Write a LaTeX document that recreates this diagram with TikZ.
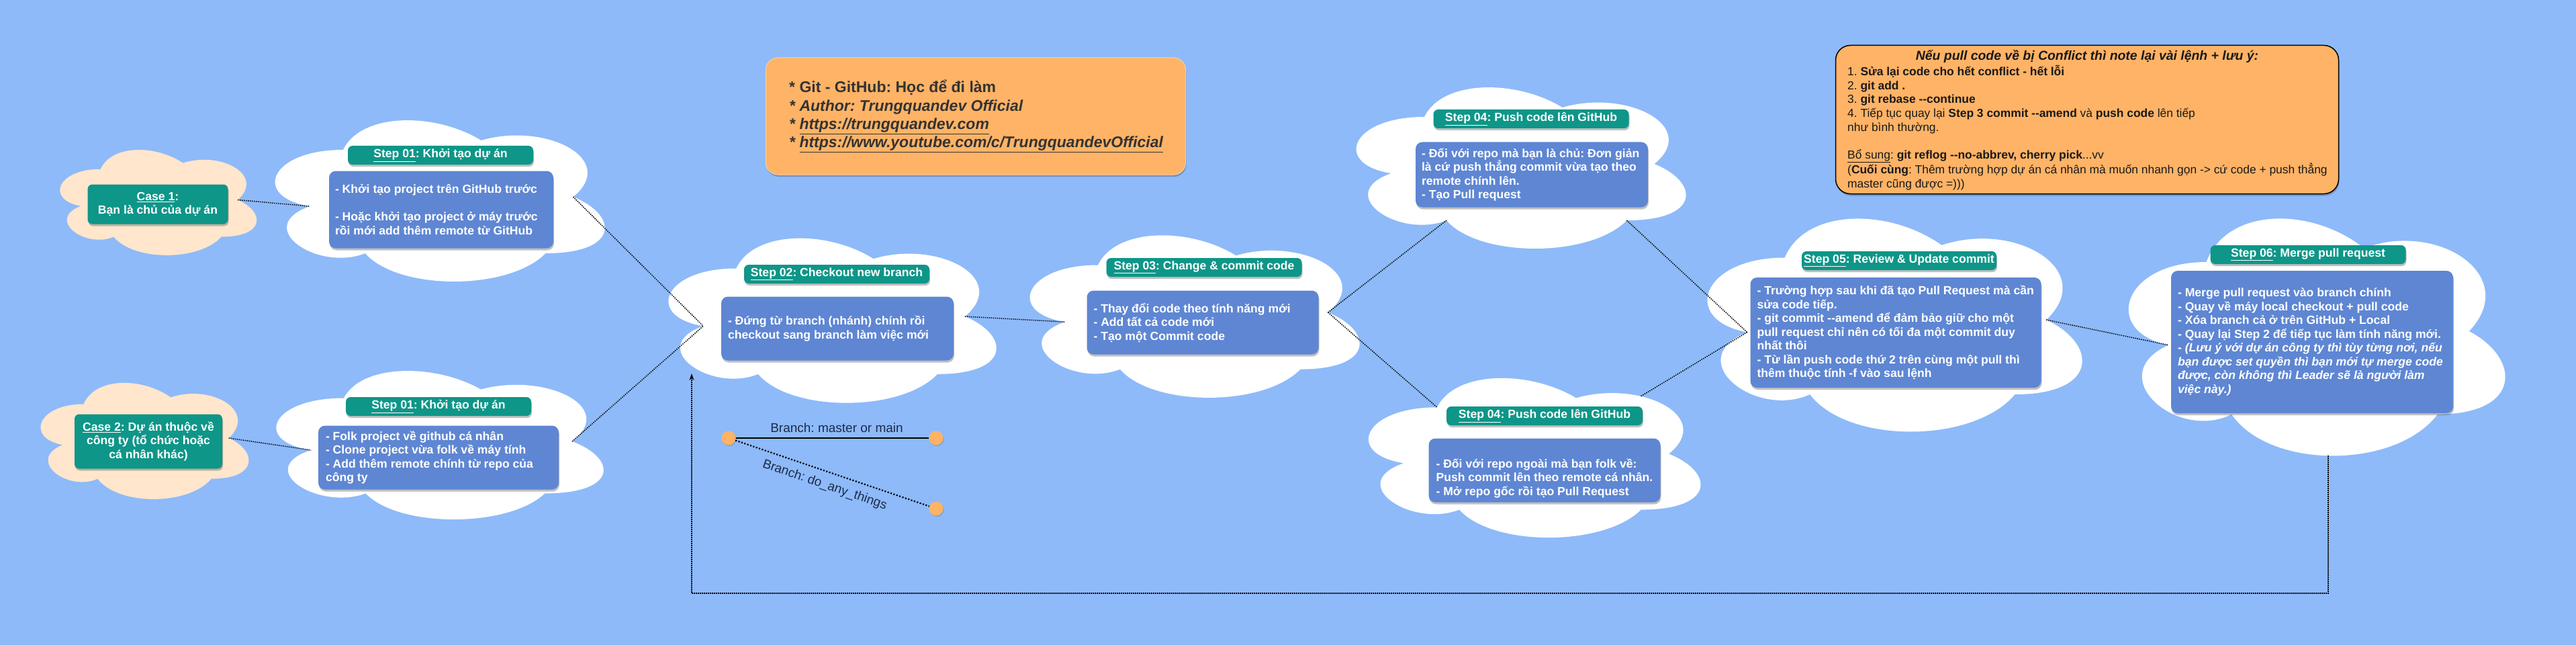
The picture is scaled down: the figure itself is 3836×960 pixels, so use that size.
\documentclass[tikz,border=0pt]{standalone}
\usepackage{fontspec}
\setmainfont{Liberation Sans}
\usetikzlibrary{shadows,arrows.meta,calc}
\definecolor{bg}{RGB}{142,186,249}
\definecolor{peach}{RGB}{255,230,204}
\definecolor{tealb}{RGB}{14,150,136}
\definecolor{bodyb}{RGB}{94,134,211}
\definecolor{orangeb}{RGB}{255,179,102}
\definecolor{navy}{RGB}{28,43,74}
\definecolor{infotxt}{RGB}{51,51,51}
\frenchspacing
\newcommand\fcloud{\fontsize{17.6}{20.5}\selectfont\bfseries}
\newcommand\drawcloud[6]{%
 \begin{scope}[shift={(#2,#3)},x=#4pt,y=-#5pt]
 \fill[#6] (0.25,0.25) .. controls (0.05,0.25) and (0,0.5) .. (0.16,0.55)
 .. controls (0,0.66) and (0.18,0.9) .. (0.31,0.8)
 .. controls (0.4,1) and (0.7,1) .. (0.8,0.8)
 .. controls (1,0.8) and (1,0.6) .. (0.875,0.5)
 .. controls (1,0.3) and (0.8,0.1) .. (0.625,0.2)
 .. controls (0.5,0.05) and (0.3,0.05) .. (0.25,0.25) -- cycle;
 \node[inner sep=0pt,minimum width=#4pt,minimum height=#5pt] (#1) at (0.5,0.5) {};
 \coordinate (#1-L) at (0.16,0.55);
 \coordinate (#1-R) at (0.875,0.5);
 \coordinate (#1-BL) at (0.31,0.8);
 \coordinate (#1-BR) at (0.8,0.8);
 \coordinate (#1-TL) at (0.25,0.25);
 \coordinate (#1-TR) at (0.8,0.19);
 \coordinate (#1-B) at (0.54,0.95);
 \end{scope}}
\begin{document}
\begin{tikzpicture}[x=1pt,y=-1pt,
 shdw/.style={drop shadow={shadow xshift=1pt,shadow yshift=-3pt,opacity=0.35,fill=black!70}},
 hdr/.style={fill=tealb,rounded corners=7pt,text=white,font=\fcloud,inner sep=0pt,minimum height=28pt,shdw},
 bbox/.style={fill=bodyb,rounded corners=10pt,inner sep=0pt,shdw},
 btxt/.style={text=white,font=\fcloud,align=left,inner sep=0pt,anchor=west},
 casebox/.style={fill=tealb,rounded corners=7pt,text=white,font=\fcloud,align=center,inner sep=0pt,shdw},
 link/.style={draw=black,line width=1.5pt,dash pattern=on 1.5pt off 1.5pt},
 dotnode/.style={circle,fill=orangeb,minimum size=21pt,inner sep=0pt,drop shadow={shadow xshift=1pt,shadow yshift=-1.5pt,opacity=0.3,fill=black!60}},
 blabel/.style={text=navy,font=\fontsize{19}{22}\selectfont,inner sep=0pt}]
\useasboundingbox (0,0) rectangle (3836,960);
\fill[bg] (0,0) rectangle (3836,960);

% clouds
\drawcloud{k1}{68}{206}{327}{183}{peach}
\drawcloud{k2}{38}{551}{346}{202}{peach}
\drawcloud{s1a}{374}{153}{548}{280}{white}
\drawcloud{s1b}{376}{528}{544}{258}{white}
\drawcloud{s2}{960}{328}{545}{286}{white}
\drawcloud{s3}{1498}{324}{548}{282}{white}
\drawcloud{s4a}{1984}{104}{548}{280}{white}
\drawcloud{s4b}{2002}{537}{552}{277}{white}
\drawcloud{s5}{2502}{291}{623}{370}{white}
\drawcloud{s6}{3129}{287}{626}{412}{white}

% connectors
\draw[link] (k1-R) -- (s1a-L);
\draw[link] (k2-R) -- (s1b-L);
\draw[link] (s1a-R) -- (s2-L);
\draw[link] (s1b-R) -- (s2-L);
\draw[link] (s2-R) -- (s3-L);
\draw[link] (s3-R) -- (s4a-BL);
\draw[link] (s3-R) -- (s4b-TL);
\draw[link] (s4a-BR) -- (s5-L);
\draw[link] (s4b-TR) -- (s5-L);
\draw[link] (s5-R) -- (s6-L);
\coordinate (loopc) at (1030,883);
\coordinate (arrowend) at (1030,556);
\draw[link,-{Stealth[length=10pt,width=7pt]}] (s6-B) |- (loopc) -- (arrowend);

% case boxes
\node[casebox,minimum width=209pt,minimum height=59pt] (case1) at (235,304) {\underline{Case 1}:\\Bạn là chủ của dự án};
\node[casebox,minimum width=220pt,minimum height=81pt] (case2) at (221,657) {\underline{Case 2}: Dự án thuộc về\\công ty (tổ chức hoặc\\cá nhân khác)};

% step 01 a
\node[hdr,minimum width=276pt] (h1a) at (656,231) {\underline{Step 01}: Khởi tạo dự án};
\node[bbox,minimum width=334pt,minimum height=115pt] (b1a) at (657,312) {};
\node[btxt] (t1a) at ([xshift=9pt]b1a.west) {- Khởi tạo project trên GitHub trước\\[20.5pt]- Hoặc khởi tạo project ở máy trước\\rồi mới add thêm remote từ GitHub};

% step 01 b
\node[hdr,minimum width=276pt] (h1b) at (653,605) {\underline{Step 01}: Khởi tạo dự án};
\node[bbox,minimum width=358pt,minimum height=95pt] (b1b) at (653,681) {};
\node[btxt] (t1b) at ([xshift=11pt]b1b.west) {- Folk project về github cá nhân\\- Clone project vừa folk về máy tính\\- Add thêm remote chính từ repo của\\công ty};

% step 02
\node[hdr,minimum width=276pt] (h2) at (1246,408) {\underline{Step 02}: Checkout new branch};
\node[bbox,minimum width=346pt,minimum height=95pt] (b2) at (1247,489) {};
\node[btxt] (t2) at ([xshift=10pt]b2.west) {- Đứng từ branch (nhánh) chính rồi\\checkout sang branch làm việc mới};

% step 03
\node[hdr,minimum width=291pt] (h3) at (1793,398) {\underline{Step 03}: Change \& commit code};
\node[bbox,minimum width=345pt,minimum height=95pt] (b3) at (1791,480) {};
\node[btxt] (t3) at ([xshift=10pt]b3.west) {- Thay đổi code theo tính năng mới\\- Add tất cả code mới\\- Tạo một Commit code};

% step 04 a
\node[hdr,minimum width=291pt] (h4a) at (2280,177) {\underline{Step 04}: Push code lên GitHub};
\node[bbox,minimum width=346pt,minimum height=97pt] (b4a) at (2281,260) {};
\node[btxt] (t4a) at ([xshift=9pt]b4a.west) {- Đối với repo mà bạn là chủ: Đơn giản\\là cứ push thẳng commit vừa tạo theo\\remote chính lên.\\- Tạo Pull request};

% step 04 b
\node[hdr,minimum width=292pt] (h4b) at (2300,619) {\underline{Step 04}: Push code lên GitHub};
\node[bbox,minimum width=345pt,minimum height=95pt] (b4b) at (2300,700) {};
\node[btxt] (t4b) at ([xshift=11pt,yshift=-12pt]b4b.west) {- Đối với repo ngoài mà bạn folk về:\\Push commit lên theo remote cá nhân.\\- Mở repo gốc rồi tạo Pull Request};

% step 05
\node[hdr,minimum width=290pt] (h5) at (2828,388) {\underline{Step 05}: Review \& Update commit};
\node[bbox,minimum width=433pt,minimum height=164pt] (b5) at (2823,495) {};
\node[btxt] (t5) at ([xshift=10pt]b5.west) {- Trường hợp sau khi đã tạo Pull Request mà cần\\sửa code tiếp.\\- git commit -{}-amend để đảm bảo giữ cho một\\pull request chỉ nên có tối đa một commit duy\\nhất thôi\\- Từ lần push code thứ 2 trên cùng một pull thì\\thêm thuộc tính -f vào sau lệnh};

% step 06
\node[hdr,minimum width=291pt] (h6) at (3437,379) {\underline{Step 06}: Merge pull request};
\node[bbox,minimum width=420pt,minimum height=212pt] (b6) at (3443,509) {};
\node[btxt] (t6) at ([xshift=10pt]b6.west) {- Merge pull request vào branch chính\\- Quay về máy local checkout + pull code\\- Xóa branch cả ở trên GitHub + Local\\- Quay lại Step 2 để tiếp tục làm tính năng mới.\\- \textit{(Lưu ý với dự án công ty thì tùy từng nơi, nếu}\\\textit{bạn được set quyền thì bạn mới tự merge code}\\\textit{được, còn không thì Leader sẽ là người làm}\\\textit{việc này.)}};

% info box
\node[fill=orangeb,draw=orangeb!60!white,line width=1pt,rounded corners=18pt,minimum width=625pt,minimum height=174pt,inner sep=0pt,shdw] (info) at (1453,173) {};
\node[anchor=west,align=left,inner sep=0pt,text=infotxt,font=\fontsize{23}{27.3}\selectfont\bfseries] (infot) at (1175,173) {* Git - GitHub: Học để đi làm\\\textit{* Author: Trungquandev Official}\\\textit{* \underline{https://trungquandev.com}}\\\textit{* \underline{https://www.youtube.com/c/TrungquandevOfficial}}};

% conflict box
\node[fill=orangeb,draw=black,line width=1.5pt,rounded corners=22pt,minimum width=749pt,minimum height=221pt,inner sep=0pt,shdw] (conf) at (3108,178) {};
\node[inner sep=0pt,text=black!90,font=\fontsize{19.4}{20.6}\selectfont\bfseries\itshape] (conft) at (3108,84) {Nếu pull code về bị Conflict thì note lại vài lệnh + lưu ý:};
\node[anchor=west,align=left,inner sep=0pt,text=black!90,font=\fontsize{17.4}{20.6}\selectfont] (confb) at (2751,190) {1. \textbf{Sửa lại code cho hết conflict - hết lỗi}\\2. \textbf{git add .}\\3. \textbf{git rebase -{}-continue}\\4. Tiếp tục quay lại \textbf{Step 3 commit -{}-amend} và \textbf{push code} lên tiếp\\như bình thường.\\[20.6pt]\underline{Bổ sung}: \textbf{git reflog -{}-no-abbrev, cherry pick}...vv\\(\textbf{Cuối cùng}: Thêm trường hợp dự án cá nhân mà muốn nhanh gọn -> cứ code + push thẳng\\master cũng được =)))};

% branch sketch
\node[dotnode] (c1) at (1085,652) {};
\node[dotnode] (c2) at (1394,652) {};
\node[dotnode] (c3) at (1394,757) {};
\draw[line width=2pt] (c1) -- (c2);
\draw[line width=2.2pt,dash pattern=on 2.2pt off 2.4pt] (c1) -- (c3);
\node[blabel] (bl1) at (1246,637) {Branch: master or main};
\node[blabel,rotate=-19] (bl2) at (1228,722) {Branch: do\_any\_things};
\end{tikzpicture}
\end{document}
